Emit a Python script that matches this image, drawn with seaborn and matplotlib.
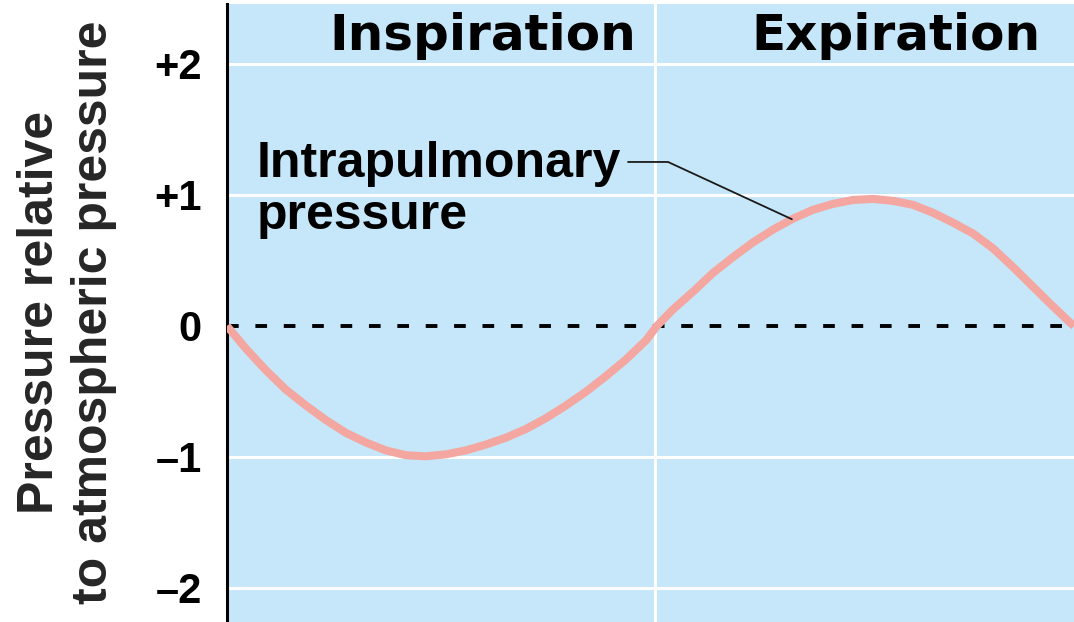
import matplotlib
matplotlib.use("Agg")
import pandas as pd
import matplotlib.pyplot as plt
import seaborn as sns

# Data (time in s, pressure relative to atmospheric)
time_s = [0.0, 0.089, 0.182, 0.276, 0.369, 0.463, 0.556, 0.650, 0.743, 0.837,
          0.930, 1.024, 1.117, 1.211, 1.304, 1.398, 1.491, 1.585, 1.678, 1.772,
          1.865, 1.959, 2.01, 2.085, 2.179, 2.272, 2.366, 2.459, 2.553, 2.646,
          2.740, 2.833, 2.927, 3.020, 3.114, 3.207, 3.301, 3.394, 3.488, 3.581,
          3.675, 3.768, 3.862, 3.950, 3.96]
pressure = [0.0, -0.174, -0.338, -0.487, -0.607, -0.719, -0.816, -0.890, -0.950, -0.987,
            -0.995, -0.980, -0.950, -0.905, -0.853, -0.786, -0.704, -0.607, -0.502, -0.383,
            -0.256, -0.11, 0.0, 0.126, 0.262, 0.405, 0.526, 0.638, 0.736, 0.819,
            0.887, 0.932, 0.962, 0.970, 0.955, 0.925, 0.864, 0.789, 0.706, 0.593,
            0.450, 0.300, 0.149, 0.013, 0.0]

y_ticks = [-2, -1, 0, 1, 2]
y_tick_labels = ["–2", "–1", "0", "+1", "+2"]
phases = ["Inspiration", "Expiration"]
phase_centers = [1.194, 3.128]
phase_boundary = 2.0

df = pd.DataFrame({"time": time_s, "pressure": pressure})

sns.set_theme(style="white")
plt.rcParams["font.family"] = ["Liberation Sans", "DejaVu Sans"]

fig = plt.figure(figsize=(10.74, 6.22), dpi=100)
ax = fig.add_axes([227 / 1074, 0, 847 / 1074, 618 / 622])
ax.set_facecolor("#c6e7f9")
ax.set_xlim(0, 3.96)
ax.set_ylim(-2.26, 2.458)

# white grid + phase divider
for t in y_ticks:
    if t != 0:
        ax.axhline(t, color="white", lw=2.2, zorder=1)
ax.axvline(phase_boundary, color="white", lw=2.2, zorder=1)

# atmospheric pressure reference
ax.axhline(0, color="black", lw=2.8, dashes=(3.0, 4.3), zorder=2)

sns.lineplot(data=df, x="time", y="pressure", ax=ax, color="#f4a6a0",
             lw=5.8, zorder=3, solid_joinstyle="round", solid_capstyle="butt")

# axes styling
for side in ["top", "right", "bottom"]:
    ax.spines[side].set_visible(False)
ax.spines["left"].set_color("black")
ax.spines["left"].set_linewidth(2.2)
ax.set_xticks([])
ax.set_yticks(y_ticks, y_tick_labels, fontsize=30, fontweight="bold")
ax.tick_params(axis="y", length=0, pad=18, colors="black")
ax.set_xlabel("")
ax.set_ylabel("")

# phase headers
for name, xc in zip(phases, phase_centers):
    ax.text(xc, 2.107, name, ha="center", va="baseline", fontsize=36,
            fontweight="bold", family="DejaVu Sans", color="black")

# curve label with leader line
ax.text(0.140, 1.137, "Intrapulmonary", ha="left", va="baseline",
        fontsize=36, fontweight="bold", color="black")
ax.text(0.140, 0.740, "pressure", ha="left", va="baseline",
        fontsize=36, fontweight="bold", color="black")
ax.plot([1.875, 2.062, 2.641], [1.252, 1.252, 0.815], color="#1a1a1a",
        lw=1.3, zorder=4)

# y axis title, two centred lines
fig.text(53 / 1074, 0.498, "Pressure relative", rotation=90,
         rotation_mode="anchor", ha="center", va="baseline",
         fontsize=36, fontweight="bold")
fig.text(107 / 1074, 0.498, "to atmospheric pressure", rotation=90,
         rotation_mode="anchor", ha="center", va="baseline",
         fontsize=36, fontweight="bold")

fig.savefig("out.png", dpi=100)
